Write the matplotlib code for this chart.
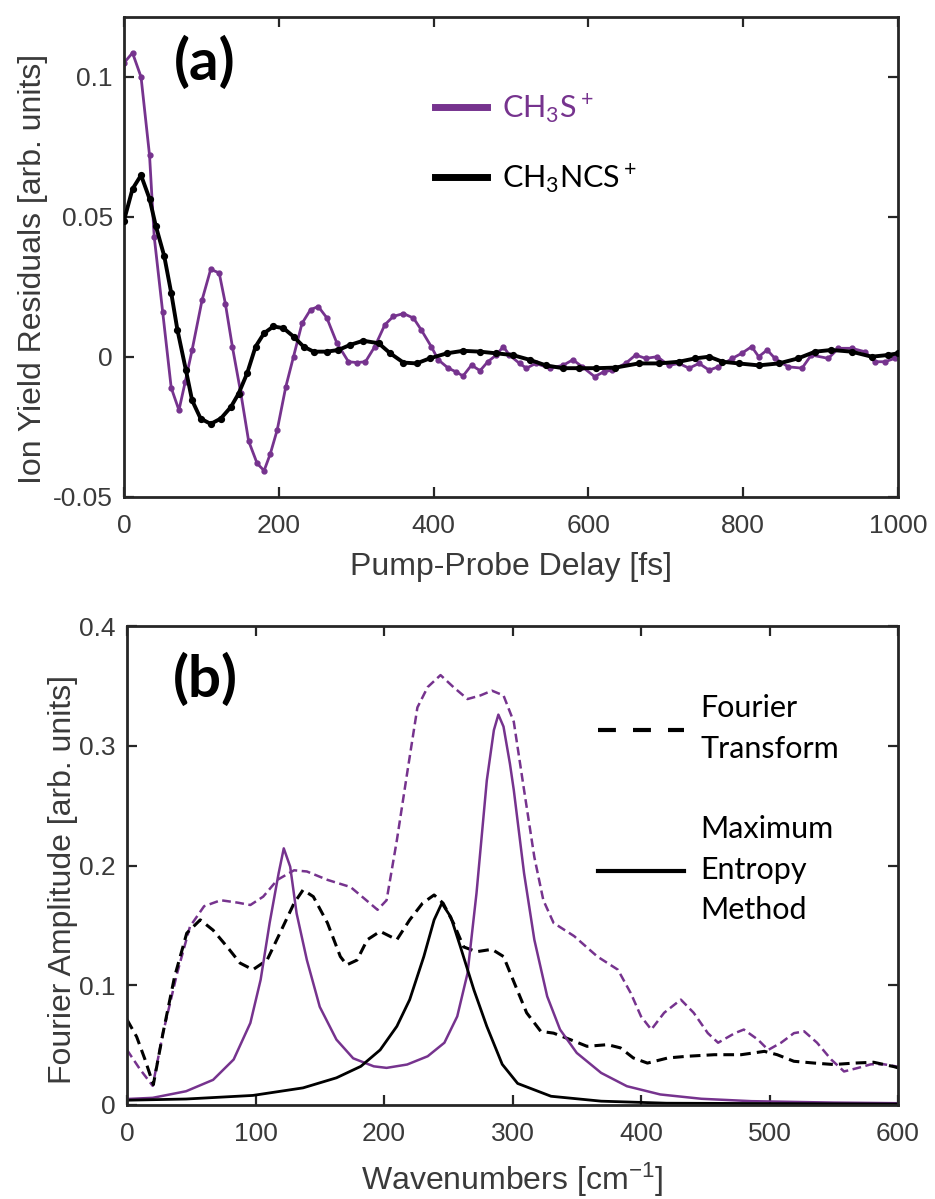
import matplotlib
matplotlib.use('Agg')
import matplotlib.pyplot as plt
from matplotlib.lines import Line2D

plt.rcParams['font.family'] = ['Liberation Sans', 'DejaVu Sans']

# ---------------- data: panel (a) ----------------
delay_ch3s = [0, 11, 22, 33, 39, 50, 61, 71, 79, 88, 101, 112, 123, 131, 140, 151, 161, 172,
              181, 189, 198, 209, 219, 230, 241, 251, 262, 275, 290, 301, 312, 324, 337, 348,
              361, 374, 384, 397, 406, 419, 429, 438, 449, 460, 470, 481, 490, 498, 511, 520,
              532, 550, 567, 580, 592, 608, 620, 631, 648, 661, 674, 689, 704, 717, 730, 743,
              756, 768, 786, 798, 811, 820, 831, 841, 858, 876, 888, 910, 923, 940, 957, 970,
              983, 996]
resid_ch3s = [0.105, 0.1086, 0.100, 0.072, 0.043, 0.016, -0.011, -0.019, -0.009, 0.0025,
              0.0205, 0.0313, 0.030, 0.019, 0.0037, -0.013, -0.030, -0.038, -0.0406, -0.0346,
              -0.026, -0.0107, 0.0001, 0.012, 0.0169, 0.018, 0.0140, 0.005, -0.0017, -0.002,
              -0.0017, 0.0037, 0.0115, 0.0145, 0.0155, 0.0139, 0.0097, 0.0037, -0.001, -0.004,
              -0.0053, -0.0068, -0.0029, -0.0049, -0.0017, 0.0007, 0.0037, 0.0007, -0.0023,
              -0.004, -0.0023, -0.004, -0.003, -0.001, -0.0035, -0.007, -0.0053, -0.0047,
              -0.0023, 0.0007, -0.0005, 0.0001, -0.003, -0.0023, -0.004, -0.0023, -0.0047,
              -0.0035, -0.0005, 0.0013, 0.0037, 0.0001, 0.0025, -0.0005, -0.0035, -0.004,
              0.0007, -0.0005, 0.0031, 0.0031, 0.0019, -0.0017, -0.0017, -0.0005]

delay_ch3ncs = [0, 11, 22, 33, 41, 52, 61, 69, 80, 88, 99, 112, 125, 138, 148, 159, 170, 181,
                193, 206, 219, 232, 245, 262, 277, 292, 309, 329, 344, 361, 378, 395, 417, 438,
                460, 481, 502, 524, 545, 567, 588, 610, 635, 665, 691, 717, 738, 756, 773, 794,
                820, 846, 871, 893, 914, 940, 966, 987, 1000]
resid_ch3ncs = [0.0487, 0.060, 0.0649, 0.0565, 0.0469, 0.036, 0.0229, 0.0097, -0.0047, -0.0155,
                -0.022, -0.0239, -0.022, -0.0179, -0.0131, -0.0059, 0.0037, 0.0085, 0.0109,
                0.0103, 0.0073, 0.0037, 0.0019, 0.0019, 0.0025, 0.0043, 0.0058, 0.0049, 0.0013,
                -0.002, -0.0023, -0.0005, 0.0013, 0.0022, 0.0019, 0.0013, 0.0007, -0.001, -0.003,
                -0.004, -0.004, -0.004, -0.0038, -0.0023, -0.0023, -0.0017, -0.0005, 0.0001,
                -0.0017, -0.0023, -0.003, -0.0023, -0.0005, 0.0019, 0.0025, 0.0019, 0.0001,
                0.0007, 0.0013]

# ---------------- data: panel (b) ----------------
wn_ft_ch3s = [0, 10, 20, 28, 39, 49, 60, 73, 86, 96, 106, 117, 130, 140, 156, 174, 184, 195,
              202, 210, 218, 226, 234, 244, 254, 265, 275, 284, 293, 301, 309, 317, 324, 332,
              348, 366, 382, 392, 400, 408, 418, 431, 441, 452, 460, 473, 480, 491, 499, 509,
              519, 527, 537, 548, 558, 569, 579, 589, 600]
amp_ft_ch3s = [0.046, 0.030, 0.016, 0.060, 0.110, 0.149, 0.166, 0.171, 0.169, 0.167, 0.174,
               0.188, 0.196, 0.195, 0.188, 0.182, 0.173, 0.163, 0.171, 0.221, 0.277, 0.332,
               0.349, 0.359, 0.349, 0.339, 0.342, 0.346, 0.342, 0.320, 0.263, 0.207, 0.171,
               0.152, 0.141, 0.124, 0.113, 0.0935, 0.074, 0.063, 0.077, 0.088, 0.077, 0.060,
               0.052, 0.060, 0.063, 0.0546, 0.046, 0.052, 0.060, 0.0615, 0.052, 0.038, 0.028,
               0.031, 0.034, 0.034, 0.032]

wn_ft_ch3ncs = [0, 7.5, 14, 20.5, 28, 37, 46.5, 57, 67, 78, 88, 98, 109, 119, 130, 137, 145,
                156, 166, 171, 179, 187, 197, 210, 220, 230, 239, 246, 254, 262, 272, 284, 293,
                301, 311, 322, 332, 345, 358, 374, 384, 394, 405, 421, 436, 457, 478, 496, 506,
                519, 535, 550, 566, 581, 597, 600]
amp_ft_ch3ncs = [0.0713, 0.057, 0.038, 0.017, 0.060, 0.107, 0.1435, 0.1546, 0.146, 0.132,
                 0.1185, 0.113, 0.121, 0.1435, 0.1685, 0.1796, 0.174, 0.152, 0.124, 0.117,
                 0.121, 0.138, 0.145, 0.138, 0.1546, 0.1685, 0.1754, 0.1685, 0.152, 0.132,
                 0.128, 0.130, 0.124, 0.103, 0.077, 0.0615, 0.060, 0.0546, 0.049, 0.0504,
                 0.0477, 0.0393, 0.035, 0.0393, 0.0407, 0.042, 0.042, 0.0448, 0.042, 0.0365,
                 0.035, 0.0338, 0.035, 0.0357, 0.032, 0.031]

wn_mem_ch3s = [0, 20, 46, 67, 83, 96, 104, 111, 118, 122, 127, 132, 140, 150, 163, 176, 192,
               202, 218, 234, 247, 257, 265, 272, 280, 285.5, 289, 293, 298, 301, 309, 317,
               327, 337, 350, 369, 389, 415, 447, 486, 550, 600]
amp_mem_ch3s = [0.005, 0.006, 0.0115, 0.021, 0.038, 0.0685, 0.1046, 0.152, 0.1935, 0.2143,
                0.199, 0.160, 0.121, 0.082, 0.0546, 0.039, 0.0323, 0.031, 0.0338, 0.0407,
                0.052, 0.074, 0.110, 0.177, 0.271, 0.313, 0.326, 0.316, 0.285, 0.263, 0.1935,
                0.138, 0.0907, 0.063, 0.0435, 0.0268, 0.0157, 0.0088, 0.0052, 0.0032, 0.002,
                0.0015]

wn_mem_ch3ncs = [0, 46, 98, 137, 163, 182, 197, 210, 220, 231, 239, 245, 252, 259.5, 270, 280,
                 292, 304, 330, 369, 420, 600]
amp_mem_ch3ncs = [0.004, 0.005, 0.008, 0.0143, 0.0227, 0.0323, 0.046, 0.0657, 0.088, 0.124,
                  0.1546, 0.1685, 0.157, 0.132, 0.096, 0.0657, 0.034, 0.018, 0.0073, 0.0032,
                  0.0015, 0.0008]

# tick labels
xticks_a = [0, 200, 400, 600, 800, 1000]
yticks_a = [-0.05, 0, 0.05, 0.1]
yticklabels_a = ['-0.05', '0', '0.05', '0.1']
xticks_b = [0, 100, 200, 300, 400, 500, 600]
yticks_b = [0, 0.1, 0.2, 0.3, 0.4]
yticklabels_b = ['0', '0.1', '0.2', '0.3', '0.4']

series_labels = [r'CH$\mathregular{_3}$S$\mathregular{^+}$',
                 r'CH$\mathregular{_3}$NCS$\mathregular{^+}$']
method_labels = ['Fourier\nTransform', 'Maximum\nEntropy\nMethod']

# ---------------- styling ----------------
PURPLE = '#76338e'
TXT = '#3a3a3a'
SPINE = '#262626'
W, H = 935, 1199
LABEL_FS = 23

fig = plt.figure(figsize=(W / 100, H / 100), dpi=100)
ax1 = fig.add_axes([124 / W, (H - 497) / H, (898 - 124) / W, 480 / H])
ax2 = fig.add_axes([127 / W, (H - 1105) / H, (898 - 127) / W, 479 / H])


def style(ax):
    for s in ax.spines.values():
        s.set_linewidth(2.0)
        s.set_color(SPINE)
    ax.tick_params(direction='in', length=7, width=1.6, top=True, right=True,
                   labelsize=19, labelcolor=TXT, color=SPINE)
    ax.tick_params(axis='x', pad=12)
    ax.tick_params(axis='y', pad=8)


# panel (a)
ax1.plot(delay_ch3s, resid_ch3s, color=PURPLE, lw=2.0, marker='o', ms=3.5, zorder=2)
ax1.plot(delay_ch3ncs, resid_ch3ncs, color='black', lw=2.8, marker='o', ms=4.2, zorder=3)
ax1.set_xlim(0, 1000)
ax1.set_ylim(-0.05, 0.1214)
ax1.set_xticks(xticks_a)
ax1.set_yticks(yticks_a)
ax1.set_yticklabels(yticklabels_a)
style(ax1)
ax1.set_xlabel('Pump-Probe Delay [fs]', fontsize=LABEL_FS, color=TXT)
ax1.set_ylabel('Ion Yield Residuals [arb. units]', fontsize=LABEL_FS, color=TXT)
ax1.xaxis.set_label_coords(0.5, -0.115)
ax1.yaxis.set_label_coords(-0.098, 0.475)
ax1.text(0.065, 0.905, '(a)', transform=ax1.transAxes, fontsize=42, fontweight='bold',
         family='Lato', va='center', ha='left')
hA = [Line2D([], [], color=PURPLE, lw=5), Line2D([], [], color='black', lw=5)]
legA = ax1.legend(hA, series_labels, loc='upper left', bbox_to_anchor=(0.402, 0.845),
                  frameon=False, prop={'family': 'Lato', 'size': 22},
                  labelcolor=[PURPLE, 'black'], handlelength=1.7, handletextpad=0.5,
                  labelspacing=1.2, borderpad=0, borderaxespad=0)

# panel (b)
ax2.plot(wn_ft_ch3s, amp_ft_ch3s, color=PURPLE, lw=1.8, dashes=(3.5, 1.8))
ax2.plot(wn_ft_ch3ncs, amp_ft_ch3ncs, color='black', lw=2.2, dashes=(3.5, 2.0))
ax2.plot(wn_mem_ch3s, amp_mem_ch3s, color=PURPLE, lw=1.8)
ax2.plot(wn_mem_ch3ncs, amp_mem_ch3ncs, color='black', lw=2.0)
ax2.set_xlim(0, 600)
ax2.set_ylim(0, 0.4)
ax2.set_xticks(xticks_b)
ax2.set_yticks(yticks_b)
ax2.set_yticklabels(yticklabels_b)
style(ax2)
ax2.set_xlabel(r'Wavenumbers [cm$\mathregular{^{-1}}$]', fontsize=LABEL_FS, color=TXT)
ax2.set_ylabel('Fourier Amplitude [arb. units]', fontsize=LABEL_FS, color=TXT)
ax2.xaxis.set_label_coords(0.5, -0.117)
ax2.yaxis.set_label_coords(-0.064, 0.47)
ax2.text(0.06, 0.8875, '(b)', transform=ax2.transAxes, fontsize=42, fontweight='bold',
         family='Lato', va='center', ha='left')
hB = [Line2D([], [], color='black', lw=3, dashes=(4.3, 4.1)),
      Line2D([], [], color='black', lw=3)]
legB = ax2.legend(hB, method_labels, loc='upper left', bbox_to_anchor=(0.611, 0.857),
                  frameon=False, prop={'family': 'Lato', 'size': 22},
                  handlelength=2.8, handletextpad=0.55, labelspacing=1.7,
                  borderpad=0, borderaxespad=0)
for t in legB.get_texts():
    t.set_linespacing(1.55)

fig.savefig('out.png', dpi=100)
